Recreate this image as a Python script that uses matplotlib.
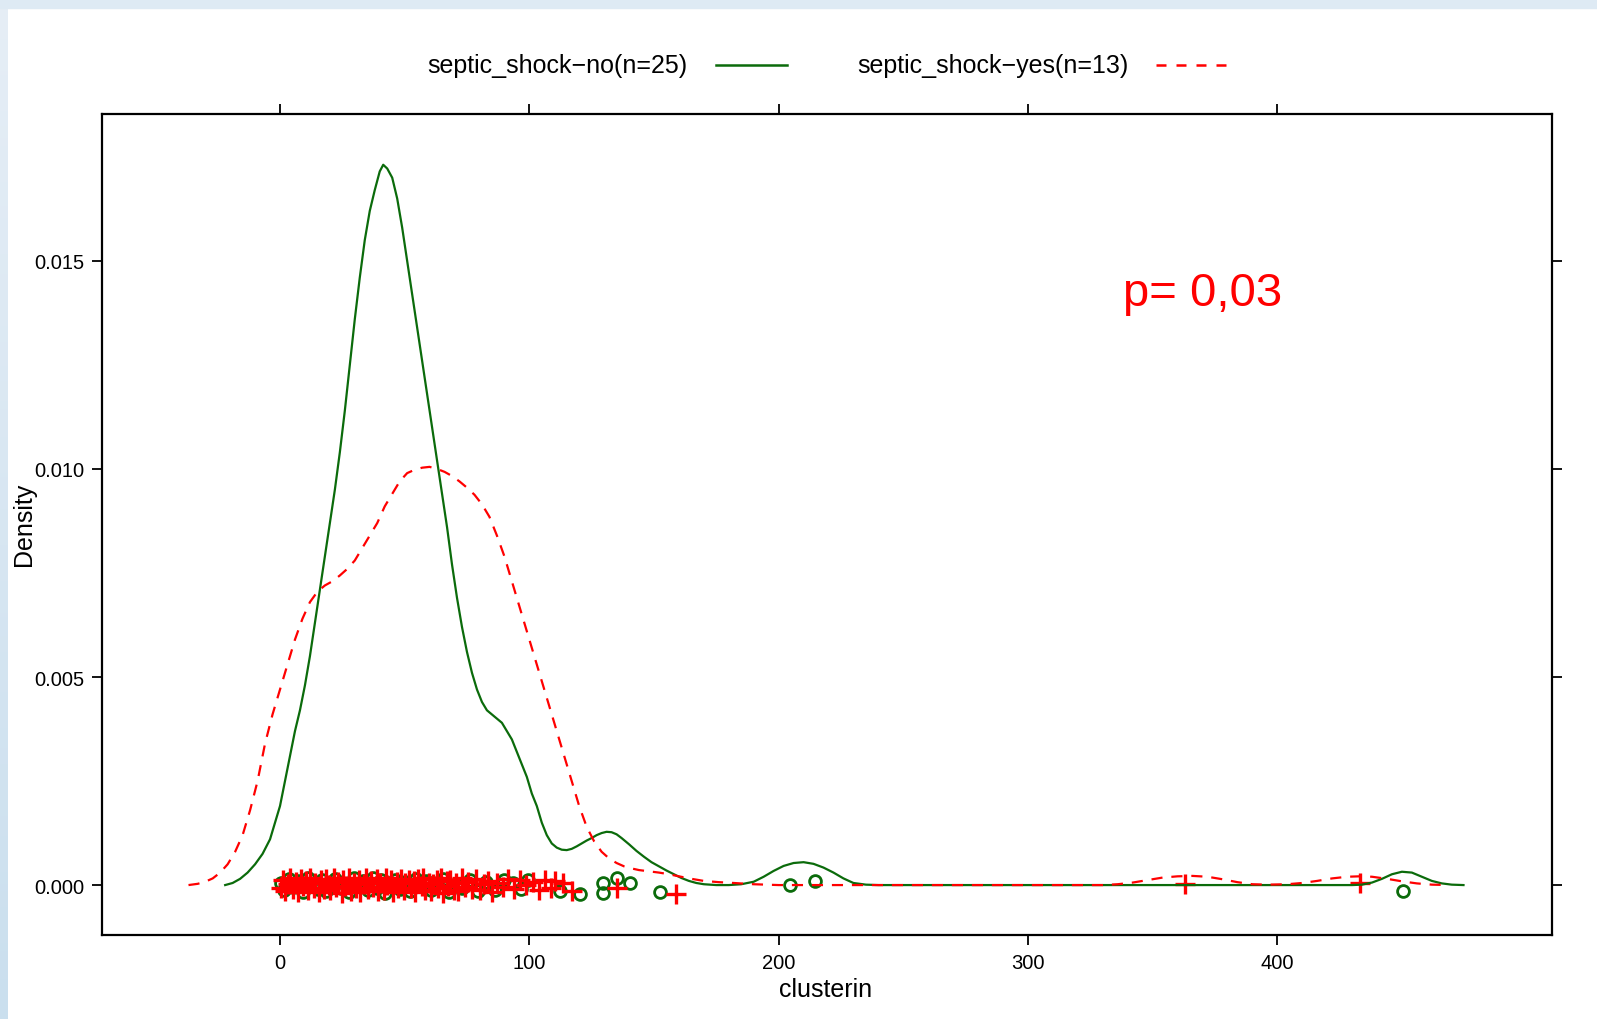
import matplotlib
matplotlib.use("Agg")
import matplotlib.pyplot as plt
import numpy as np
from matplotlib.colors import LinearSegmentedColormap
from matplotlib.lines import Line2D

plt.rcParams['font.family'] = ['Liberation Sans', 'DejaVu Sans']

# density curves (clusterin, density)
no_x = [-22, -19, -16, -13, -10, -7, -4, -2, 0, 2, 4, 6, 8, 10, 12, 14, 16, 18, 20, 22,
        24, 26, 28, 30, 32, 34, 36, 38, 40, 41.4, 43, 45, 47, 49, 51, 53, 55, 57, 59,
        61, 63, 65, 67, 69, 71, 73, 75, 77, 79, 81, 83, 85, 87, 89, 91, 93, 95, 97, 99,
        101, 103, 105, 107, 109, 111, 113, 115, 117, 119, 121, 123, 125, 127, 129, 131,
        133, 135, 137, 140, 143, 146, 149, 152, 155, 158, 161, 164, 167, 170, 175, 180,
        185, 190, 194, 198, 202, 206, 210, 214, 218, 222, 226, 230, 235, 240, 430, 434,
        438, 442, 446, 450, 454, 458, 462, 466, 470, 474.7]
no_y = [0, 0.00005, 0.00015, 0.0003, 0.0005, 0.00075, 0.0011, 0.0015, 0.0019, 0.0025,
        0.0031, 0.0037, 0.0042, 0.0048, 0.0055, 0.0063, 0.0071, 0.0079, 0.0087, 0.0095,
        0.0104, 0.0114, 0.0125, 0.0136, 0.0146, 0.0155, 0.0162, 0.0167, 0.01715,
        0.01731, 0.01722, 0.0170, 0.0165, 0.0158, 0.0150, 0.0142, 0.0134, 0.0126,
        0.0118, 0.0110, 0.0102, 0.0094, 0.0086, 0.0077, 0.0069, 0.0062, 0.0056, 0.0051,
        0.0047, 0.0044, 0.0042, 0.0041, 0.0040, 0.0039, 0.0037, 0.0035, 0.0032, 0.0029,
        0.0026, 0.0022, 0.0019, 0.0015, 0.0012, 0.0010, 0.0009, 0.00085, 0.00084,
        0.00087, 0.00093, 0.0010, 0.00107, 0.00113, 0.0012, 0.00125, 0.00128, 0.00127,
        0.00122, 0.00113, 0.00098, 0.00082, 0.00068, 0.00055, 0.00045, 0.00035,
        0.00026, 0.00017, 0.0001, 0.00005, 0.00002, 0, 0, 0.00002, 0.00008, 0.0002,
        0.00034, 0.00046, 0.00053, 0.00055, 0.00051, 0.00042, 0.0003, 0.00016, 0.00005,
        0.00001, 0, 0, 0.00001, 0.00006, 0.00015, 0.00026, 0.00032, 0.0003, 0.0002,
        0.0001, 0.00004, 0.00001, 0]

yes_x = [-36.7, -33, -30, -27, -24, -21, -18, -15, -12, -9, -6, -3, 0, 3, 6, 9, 12, 15,
         18, 21, 24, 27, 30, 33, 36, 39, 42, 45, 48, 51, 54, 57, 60, 63, 66, 69, 72, 75,
         78, 81, 84, 87, 90, 93, 96, 99, 102, 105, 108, 111, 114, 117, 120, 123, 126,
         129, 132, 135, 138, 141, 144, 148, 152, 156, 160, 165, 170, 176, 182, 190, 200,
         330, 336, 342, 348, 354, 360, 366, 372, 378, 384, 390, 396, 404, 410, 416, 422,
         428, 433, 438, 444, 450, 456, 462, 469]
yes_y = [0, 0.00003, 0.00008, 0.00016, 0.0003, 0.0005, 0.0008, 0.0012, 0.0018, 0.0025,
         0.0034, 0.0041, 0.0047, 0.0053, 0.0059, 0.0064, 0.0068, 0.00705, 0.0072,
         0.0073, 0.00744, 0.0076, 0.0078, 0.0081, 0.0084, 0.0087, 0.0091, 0.0094,
         0.0097, 0.0099, 0.00998, 0.01003, 0.01005, 0.0100, 0.00993, 0.00983, 0.0097,
         0.00955, 0.00938, 0.00915, 0.00885, 0.0084, 0.0079, 0.0073, 0.0067, 0.0061,
         0.0055, 0.0049, 0.0043, 0.0037, 0.0031, 0.0025, 0.0019, 0.0014, 0.00105,
         0.0008, 0.00064, 0.00053, 0.00045, 0.0004, 0.00036, 0.00033, 0.0003, 0.00026,
         0.00021, 0.00015, 0.0001, 0.00007, 0.00005, 0.00002, 0, 0, 0.00002, 0.00006,
         0.00012, 0.00018, 0.00021, 0.00022, 0.0002, 0.00014, 0.00007, 0.00002, 0.00001,
         0.00002, 0.00005, 0.0001, 0.00016, 0.0002, 0.00021, 0.0002, 0.00015, 0.00009,
         0.00004, 0.00001, 0]

# observations, jittered along y as in the original
no_pts = [0.2, 1.8, 3.5, 5.4, 7.2, 9.1, 11.4, 13.2, 15.3, 16.9, 18.6, 20.4, 22.1, 24.3,
          26.2, 27.8, 29.7, 31.5, 33.4, 35.2, 37.1, 38.8, 40.6, 42.3, 44.5, 46.2, 48.1,
          50.2, 52.3, 54.4, 56.6, 58.5, 60.7, 62.9, 65.3, 67.8, 70.4, 73.1, 76.2, 79.5,
          82.8, 86.3, 89.9, 93.4, 96.8, 99.6, 112.3, 120.3, 129.7, 129.7, 135, 140.4,
          152.4, 204.6, 214.6, 450.6]
no_jit = [0.00005, -0.00012, 0.00015, -0.00004, 0.0001, -0.00016, 0.00018, 0.00002,
          -0.0001, 0.00012, -0.00015, 0.00006, 0.00014, -0.00008, 0.00003, -0.00017,
          0.00016, -0.00002, 0.00009, -0.00013, 0.00017, -0.00006, 0.00011, -0.00018,
          0.00004, 0.00013, -0.00009, 0.00007, -0.00014, 0.00015, -0.00003, 0.0001,
          -0.00011, 0.00006, 0.00014, -0.00016, 0.00002, -0.00007, 0.00012, -0.00015,
          0.00008, -0.00012, 0.00013, 0.00004, -0.00009, 0.00011, -0.00014, -0.00022,
          0.00006, -0.00018, 0.00016, 0.00006, -0.00016, 0, 0.0001, -0.00014]

yes_pts = [0.3, 1.2, 2.1, 3.4, 4.1, 5.2, 6.3, 7.1, 8.4, 9.2, 10.5, 11.3, 12.1, 13.6,
           14.2, 15.5, 16.3, 17.8, 18.4, 19.6, 20.2, 21.7, 22.5, 23.3, 24.8, 25.4, 26.1,
           27.6, 28.3, 29.5, 30.4, 31.8, 32.2, 33.7, 34.5, 35.1, 36.6, 37.3, 38.9, 39.4,
           40.2, 41.7, 42.5, 43.1, 44.6, 45.3, 46.8, 47.2, 48.5, 49.7, 50.3, 51.6, 52.4,
           53.8, 54.2, 55.5, 56.9, 57.4, 58.2, 59.7, 60.5, 61.3, 62.8, 63.4, 64.6, 65.2,
           66.9, 67.5, 68.3, 69.8, 70.6, 71.4, 72.9, 74.1, 75.6, 77.2, 78.8, 80.3, 81.9,
           83.4, 85.2, 87.1, 89.3, 91.6, 93.8, 96.2, 98.7, 101.3, 103.9, 106.4, 108.8,
           110.5, 113.6, 117, 135, 159, 363, 433]
yes_jit = [-0.00008, 0.00012, -0.00015, 0.00003, 0.00016, -0.0001, 0.00007, -0.00017,
           0.00014, -0.00003, 0.0001, -0.00013, 0.00018, -0.00006, 0.00004, -0.00016,
           0.00013, -0.00009, 0.00015, 0.00001, -0.00012, 0.00017, -0.00005, 0.00008,
           -0.00018, 0.00011, -0.00002, 0.00016, -0.00014, 0.00006, -0.00007, 0.00013,
           -0.00016, 0.00003, 0.00017, -0.0001, 0.00009, -0.00004, 0.00014, -0.00015,
           0.00005, -0.00011, 0.00016, -0.00001, 0.00012, -0.00017, 0.00007, -0.00008,
           0.00015, -0.00013, 0.00004, 0.00011, -0.00006, 0.00009, -0.00016, 0.00014,
           -0.00003, 0.00018, -0.00011, 0.00006, -0.00014, 0.00002, 0.00012, -0.00007,
           0.00016, -0.00018, 0.00009, -0.00002, 0.00013, -0.00012, 0.00005, -0.00015,
           0.00017, -0.00005, 0.00008, -0.00009, 0.00014, -0.00013, 0.00003, 0.0001,
           -0.00016, 0.00006, -0.00004, 0.00015, -0.0001, 0.00011, -0.00001, 0.00007,
           -0.00012, 0.00013, -0.00006, 0.00009, 0.00004, -0.00014, -0.00006, -0.00022,
           0.00002, 0.00006]

labels = ['septic_shock\u2212no(n=25)', 'septic_shock\u2212yes(n=13)']
xticks = [0, 100, 200, 300, 400]
yticks = [0.000, 0.005, 0.010, 0.015]

green = '#0b6b0b'
red = '#ff0000'

fig = plt.figure(figsize=(15.97, 10.20), dpi=100)

# light blue slide border on the top and left
cmap = LinearSegmentedColormap.from_list('bg', ['#e6eef6', '#cadfee'])
bg = fig.add_axes([0, 0, 8 / 1597, 1])
bg.imshow(np.linspace(0, 1, 256)[:, None], cmap=cmap, aspect='auto')
bg.axis('off')
fig.patches.append(plt.Rectangle((0, 1 - 9 / 1020), 1, 9 / 1020, transform=fig.transFigure,
                                 color='#deeaf4', zorder=0))

ax = fig.add_axes([102 / 1597, 84 / 1020, 1450 / 1597, 821 / 1020])

ax.plot(no_pts, no_jit, 'o', ms=8.5, mfc='none', mec=green, mew=2)
ax.plot(yes_pts, yes_jit, '+', ms=14, mec=red, mew=2.4)
ax.plot(no_x, no_y, color=green, lw=1.6)
ax.plot(yes_x, yes_y, color=red, lw=1.6, dashes=(5, 4))

ax.set_xlim(-71.4, 510.2)
ax.set_ylim(-0.0012, 0.01853)
ax.set_xticks(xticks)
ax.set_yticks(yticks)
ax.set_yticklabels(['%.3f' % v for v in yticks])
ax.tick_params(direction='out', length=7, width=1.3, top=True, right=True,
               labeltop=False, labelright=False, labelsize=14.5, pad=6)
for s in ax.spines.values():
    s.set_linewidth(1.6)

ax.set_xlabel('clusterin', fontsize=18, va='center')
ax.xaxis.set_label_coords(0.4993, -0.0658)
ax.set_ylabel('Density', fontsize=18, va='center')
ax.yaxis.set_label_coords(-0.0535, 0.501)

ax.text(338.2, 0.01395, 'p= 0,03', color=red, fontsize=34, ha='left', va='baseline')

# legend on top
ly = 1 - 66 / 1020
fig.text(557.5 / 1597, ly, labels[0], fontsize=18, ha='center', va='center')
fig.text(993 / 1597, ly, labels[1], fontsize=18, ha='center', va='center')
fig.add_artist(Line2D([716 / 1597, 787 / 1597], [ly, ly], color=green, lw=1.8,
                      transform=fig.transFigure))
fig.add_artist(Line2D([1156 / 1597, 1229 / 1597], [ly, ly], color=red, lw=1.8,
                      dashes=(4, 4), transform=fig.transFigure))

fig.savefig('out.png', dpi=100)
